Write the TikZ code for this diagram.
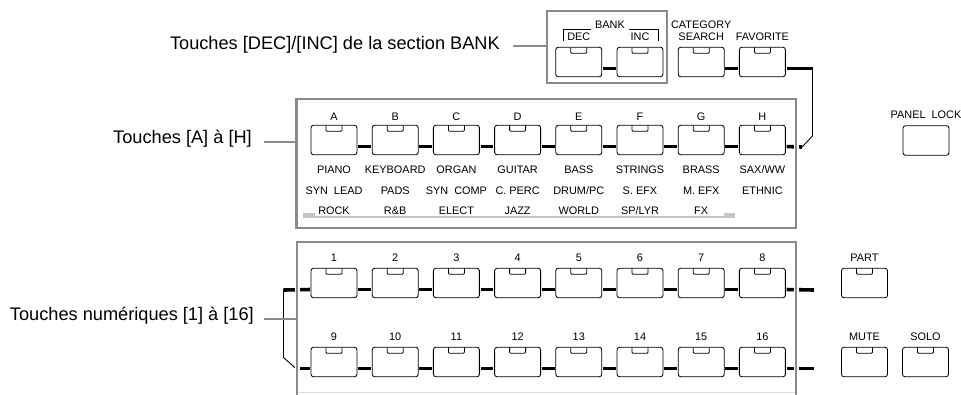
\documentclass[tikz,border=0pt]{standalone}
\usepackage{fontspec}
\setmainfont{Liberation Sans}
\definecolor{boxgray}{HTML}{8A8A8A}
\definecolor{bargray}{HTML}{C6C6C6}
\begin{document}
\begin{tikzpicture}[x=1pt,y=-1pt,
  key/.style={draw, line width=0.85pt, rounded corners=2.5pt, minimum width=46pt, minimum height=29.5pt, inner sep=0pt, outer sep=0pt},
  lab/.style={font=\fontsize{10.9}{12}\selectfont, inner sep=0pt},
  big/.style={font=\fontsize{18.2}{20}\selectfont, inner sep=0pt},
  conn/.style={line width=3.6pt, shorten <=1.2pt, shorten >=1.2pt},
  graybox/.style={draw=boxgray, line width=2.5pt, inner sep=0pt, outer sep=0pt},
  leader/.style={draw=boxgray, line width=2pt},
  thinln/.style={line width=0.9pt},
  ledst/.style={line width=0.8pt, rounded corners=1pt}]
\useasboundingbox (0,0) rectangle (961,394);
\clip (0,0) rectangle (961,394);
% ---------- keys ----------
\node[key] (kdec) at (578.8,62) {};
\node[key] (kinc) at (640,62) {};
\node[key] (kcat) at (701.2,62) {};
\node[key] (kfav) at (762.4,62) {};
\foreach \nm [count=\i from 0] in {a,b,c,d,e,f,g,h}
  \node[key] (k\nm) at ({334+61.2*\i},140) {};
\foreach \n [count=\i from 0] in {1,...,8}
  \node[key] (k\n) at ({334+61.2*\i},283) {};
\foreach \n [count=\i from 0] in {9,...,16}
  \node[key] (k\n) at ({334+61.2*\i},362) {};
\node[key] (kpart) at (864.5,283) {};
\node[key] (kmute) at (864.5,362) {};
\node[key] (ksolo) at (925.5,362) {};
\node[key] (klock) at (926,140.5) {};
% LEDs
\foreach \k in {kdec,kinc,kcat,kfav,ka,kb,kc,kd,ke,kf,kg,kh,k1,k2,k3,k4,k5,k6,k7,k8,k9,k10,k11,k12,k13,k14,k15,k16,kpart,kmute,ksolo}
  \draw[ledst] ([xshift=-8pt]\k.north) -- ++(0,6) -- ++(16,0) -- ++(0,-6);
% ---------- key labels ----------
\node[lab] (tbank) at (610,25) {BANK};
\node[lab] (tdec) at (578.8,37) {DEC};
\node[lab] (tinc) at (640,37) {INC};
\node[lab] (tcat) at (701.2,25) {CATEGORY};
\node[lab] (tsearch) at (701.2,37) {SEARCH};
\node[lab] (tfav) at (762.4,37) {FAVORITE};
\draw[thinln] (563,41) -- (563,29) -- ([xshift=-4pt]tbank.west |- 0,29);
\draw[thinln] ([xshift=4pt]tbank.east |- 0,29) -- (658,29) -- (658,41);
\foreach \t [count=\i from 0] in {A,B,C,D,E,F,G,H}
  \node[lab] (tl\i) at ({334+61.2*\i},117) {\t};
\foreach \t [count=\i from 0] in {PIANO,KEYBOARD,ORGAN,GUITAR,BASS,STRINGS,BRASS,SAX/WW}
  \node[lab] (tra\i) at ({334+61.2*\i},170) {\t};
\foreach \t [count=\i from 0] in {SYN\ \ LEAD,PADS,SYN\ \ COMP,C. PERC,DRUM/PC,S. EFX,M. EFX,ETHNIC}
  \node[lab] (trb\i) at ({334+61.2*\i},191) {\t};
\foreach \t [count=\i from 0] in {ROCK,R\&B,ELECT,JAZZ,WORLD,SP/LYR,FX}
  \node[lab] (trc\i) at ({334+61.2*\i},211) {\t};
\foreach \n [count=\i from 0] in {1,...,8}
  \node[lab] (tn\n) at ({334+61.2*\i},258) {\n};
\foreach \n [count=\i from 0] in {9,...,16}
  \node[lab] (tn\n) at ({334+61.2*\i},337) {\n};
\node[lab] (tpart) at (864.5,258) {PART};
\node[lab] (tmute) at (864.5,337) {MUTE};
\node[lab] (tsolo) at (925.5,337) {SOLO};
\node[lab] (tlock) at (926,115) {PANEL\ \ LOCK};
% gray bar
\fill[bargray] (303,212.5) rectangle (315,218);
\fill[bargray] (724,212.5) rectangle (735,218);
\fill[bargray] (303,216) rectangle (735,218);
% ---------- thick connectors ----------
\foreach \p/\q in {kdec/kinc,kcat/kfav,ka/kb,kb/kc,kc/kd,kd/ke,ke/kf,kf/kg,kg/kh,
  k1/k2,k2/k3,k3/k4,k4/k5,k5/k6,k6/k7,k7/k8,k9/k10,k10/k11,k11/k12,k12/k13,k13/k14,k14/k15,k15/k16}
  \draw[conn] ([yshift=-6.5pt]\p.east) -- ([yshift=-6.5pt]\q.west);
\coordinate (fa) at (812.5,68.5);
\coordinate (hb) at (812.5,136);
\coordinate (ha) at (802,147);
\draw[conn, shorten >=0pt] ([yshift=-6.5pt]kfav.east) -- (fa);
\draw[conn, shorten <=1.2pt, shorten >=0pt] ([yshift=-6.5pt]kh.east) -- (ha);
\draw[thinln] (fa) -- (hb) -- (ha);
\coordinate (n1) at (283.5,290);
\coordinate (n2) at (283.5,357.5);
\coordinate (n3) at (296,368.5);
\draw[conn, shorten <=0pt] (n1) -- ([yshift=-6.5pt]k1.west);
\draw[thinln] (n1) -- (n2) -- (n3);
\draw[conn, shorten <=0pt] (n3) -- ([yshift=-6.5pt]k9.west);
\coordinate (r1) at (814,290);
\coordinate (r2) at (814,368.5);
\draw[conn, shorten >=0pt] ([yshift=-6.5pt]k8.east) -- (r1);
\draw[conn, shorten >=0pt] ([yshift=-6.5pt]k16.east) -- (r2);
% ---------- gray section boxes ----------
\draw[white, line width=5pt] (296.5,99) rectangle (796,228);
\draw[white, line width=5pt] (297,242) -- (297,400);
\draw[white, line width=5pt] (796,242) -- (796,400);
\node[graybox, minimum width=120pt, minimum height=72pt] (bankbox) at (607,47) {};
\node[graybox, minimum width=499.5pt, minimum height=129pt] (abbox) at (546.25,163.5) {};
\node[graybox, minimum width=499pt, minimum height=160pt] (numbox) at (546.5,322) {};
\draw[bargray!60, line width=0.8pt] (298.5,392) -- (794.5,392);
% ---------- callout labels ----------
\node[big, anchor=east] (lbank) at (500,45) {Touches [DEC]/[INC] de la section BANK};
\node[big, anchor=east] (lab) at (252,139) {Touches [A] à [H]};
\node[big, anchor=east] (lnum) at (254,316) {Touches numériques [1] à [16]};
\draw[leader] ([xshift=13pt,yshift=-1pt]lbank.east) -- ([yshift=-1pt]lbank.east -| bankbox.west);
\draw[leader] ([xshift=12pt,yshift=-3pt]lab.east) -- ([yshift=-3pt]lab.east -| abbox.west);
\draw[leader] ([xshift=10pt,yshift=-3pt]lnum.east) -- ([yshift=-3pt]lnum.east -| numbox.west);
\end{tikzpicture}
\end{document}
